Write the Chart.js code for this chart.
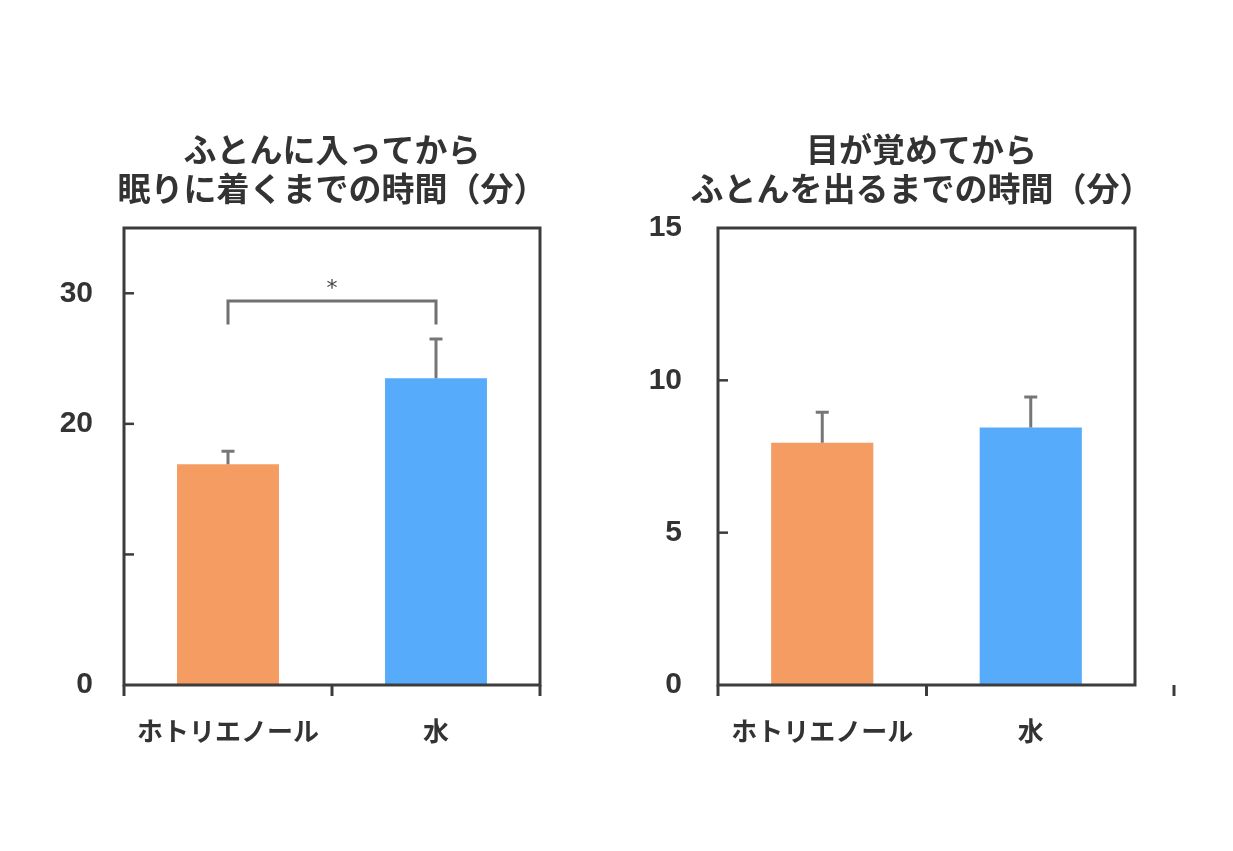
<!DOCTYPE html>
<html>
<head>
<meta charset="utf-8">
<script src="https://cdn.jsdelivr.net/npm/chart.js@4.4.1/dist/chart.umd.min.js"></script>
<style>
  html, body { margin: 0; padding: 0; background: #ffffff; }
  body { width: 1233px; height: 851px; position: relative; overflow: hidden; }
  canvas { position: absolute; top: 0; }
  #c1 { left: 0px; }
  #c2 { left: 616px; }
</style>
</head>
<body>
<canvas id="c1" width="616" height="851"></canvas>
<canvas id="c2" width="617" height="851"></canvas>
<script>
// ---------- data ----------
const categories = ['ホトリエノール', '水'];

const sleepOnsetTitle = ['ふとんに入ってから', '眠りに着くまでの時間（分）'];
const sleepOnsetMeans = [16.9, 23.5];
const sleepOnsetErrors = [1.0, 3.0];
const sleepOnsetTicks = [0, 10, 20, 30];
const sleepOnsetTickLabels = ['0', '', '20', '30'];
const sleepOnsetMax = 35;

const wakeToRiseTitle = ['目が覚めてから', 'ふとんを出るまでの時間（分）'];
const wakeToRiseMeans = [7.95, 8.45];
const wakeToRiseErrors = [1.0, 1.0];
const wakeToRiseTicks = [0, 5, 10, 15];
const wakeToRiseTickLabels = ['0', '5', '10', '15'];
const wakeToRiseMax = 15;

// significance bracket (left chart): from category 0 to 1
const sigFrom = 0, sigTo = 1;
const sigLevel = 29.4;
const sigLegEnd = 27.6;
const sigLabel = '*';

const barColors = ['#F49C62', '#56ACFB'];

// ---------- styles ----------
const AXIS_COLOR = '#3c3c3c';
const ERR_COLOR = '#767676';
const TEXT_COLOR = '#333333';
const CJK = '"Noto Sans CJK JP", "Noto Sans", sans-serif';
const NUM = '"Liberation Sans", Arial, sans-serif';

const decorPlugin = {
  id: 'decor',
  afterDatasetsDraw(chart, args, opts) {
    const ctx = chart.ctx;
    const area = chart.chartArea;
    const xs = chart.scales.x;
    const ys = chart.scales.y;
    const ds = chart.data.datasets[0];
    ctx.save();

    // error bars (upward only)
    ctx.strokeStyle = ERR_COLOR;
    ctx.lineWidth = 3;
    ctx.lineCap = 'butt';
    ds.data.forEach((v, i) => {
      const x = xs.getPixelForValue(i);
      const y0 = ys.getPixelForValue(v);
      const y1 = ys.getPixelForValue(v + ds.errors[i]);
      ctx.beginPath();
      ctx.moveTo(x, y0);
      ctx.lineTo(x, y1);
      ctx.moveTo(x - 6.5, y1);
      ctx.lineTo(x + 6.5, y1);
      ctx.stroke();
    });

    // significance bracket
    if (opts.bracket) {
      const b = opts.bracket;
      const xa = xs.getPixelForValue(b.from);
      const xb = xs.getPixelForValue(b.to);
      const yl = ys.getPixelForValue(b.level);
      const ye = ys.getPixelForValue(b.legEnd);
      ctx.strokeStyle = '#707070';
      ctx.lineWidth = 3;
      ctx.lineJoin = 'miter';
      ctx.beginPath();
      ctx.moveTo(xa, ye);
      ctx.lineTo(xa, yl);
      ctx.lineTo(xb, yl);
      ctx.lineTo(xb, ye);
      ctx.stroke();
      ctx.fillStyle = '#444444';
      ctx.font = '22px "DejaVu Sans", sans-serif';
      ctx.textAlign = 'center';
      ctx.textBaseline = 'middle';
      ctx.fillText(b.label, (xa + xb) / 2, yl - 12);
    }

    // frame
    ctx.strokeStyle = AXIS_COLOR;
    ctx.lineWidth = 3;
    ctx.strokeRect(area.left, area.top, area.right - area.left, area.bottom - area.top);

    // inward y ticks (skip ends)
    ctx.lineWidth = 2.5;
    ys.ticks.forEach(t => {
      if (t.value === ys.min || t.value === ys.max) return;
      const y = ys.getPixelForValue(t.value);
      ctx.beginPath();
      ctx.moveTo(area.left, y);
      ctx.lineTo(area.left + 10, y);
      ctx.stroke();
    });

    // downward x ticks at category boundaries
    ctx.lineWidth = 3;
    const n = chart.data.labels.length;
    const step = (area.right - area.left) / n;
    const bounds = [];
    for (let i = 0; i < n; i++) bounds.push(area.left + step * i);
    bounds.push(area.right + (opts.lastTickShift || 0));
    bounds.forEach(x => {
      ctx.beginPath();
      ctx.moveTo(x, area.bottom);
      ctx.lineTo(x, area.bottom + 11);
      ctx.stroke();
    });

    // title
    ctx.fillStyle = TEXT_COLOR;
    ctx.font = 'bold 33px ' + CJK;
    ctx.textAlign = 'center';
    ctx.textBaseline = 'middle';
    const cx = (area.left + area.right) / 2 + (opts.titleShift || 0);
    opts.title.forEach((line, i) => {
      ctx.fillText(line, cx, area.top - 79 + i * 39);
    });
    ctx.restore();
  }
};

function makeChart(id, title, means, errors, ticks, tickLabels, max, yWidth, rightPad, yPad, extra) {
  return new Chart(document.getElementById(id), {
    type: 'bar',
    data: {
      labels: categories,
      datasets: [{
        data: means,
        errors: errors,
        backgroundColor: barColors,
        borderWidth: 0,
        barPercentage: 0.49,
        categoryPercentage: 1.0
      }]
    },
    options: {
      responsive: false,
      animation: false,
      devicePixelRatio: 1,
      layout: { padding: { top: 228, left: 0, right: rightPad, bottom: 0 } },
      plugins: {
        legend: { display: false },
        tooltip: { enabled: false },
        title: { display: false },
        decor: Object.assign({ title: title }, extra)
      },
      scales: {
        x: {
          offset: true,
          grid: { display: false, drawTicks: false },
          border: { display: false },
          ticks: {
            color: TEXT_COLOR,
            font: { family: CJK, size: 26, weight: 'bold' },
            padding: 31,
            maxRotation: 0
          },
          afterFit(scale) { scale.height = 166; }
        },
        y: {
          min: 0,
          max: max,
          grid: { display: false, drawTicks: false },
          border: { display: false },
          afterBuildTicks(scale) { scale.ticks = ticks.map(v => ({ value: v })); },
          ticks: {
            color: TEXT_COLOR,
            font: { family: NUM, size: 30, weight: 'bold' },
            padding: yPad,
            callback(value) {
              const idx = ticks.indexOf(value);
              return idx >= 0 ? tickLabels[idx] : '';
            }
          },
          afterFit(scale) { scale.width = yWidth; }
        }
      }
    },
    plugins: [decorPlugin]
  });
}

makeChart('c1', sleepOnsetTitle, sleepOnsetMeans, sleepOnsetErrors, sleepOnsetTicks, sleepOnsetTickLabels,
  sleepOnsetMax, 124, 76, 31, { bracket: { from: sigFrom, to: sigTo, level: sigLevel, legEnd: sigLegEnd, label: sigLabel } });
makeChart('c2', wakeToRiseTitle, wakeToRiseMeans, wakeToRiseErrors, wakeToRiseTicks, wakeToRiseTickLabels,
  wakeToRiseMax, 102, 98, 36, { lastTickShift: 39, titleShift: -5 });
</script>
</body>
</html>
